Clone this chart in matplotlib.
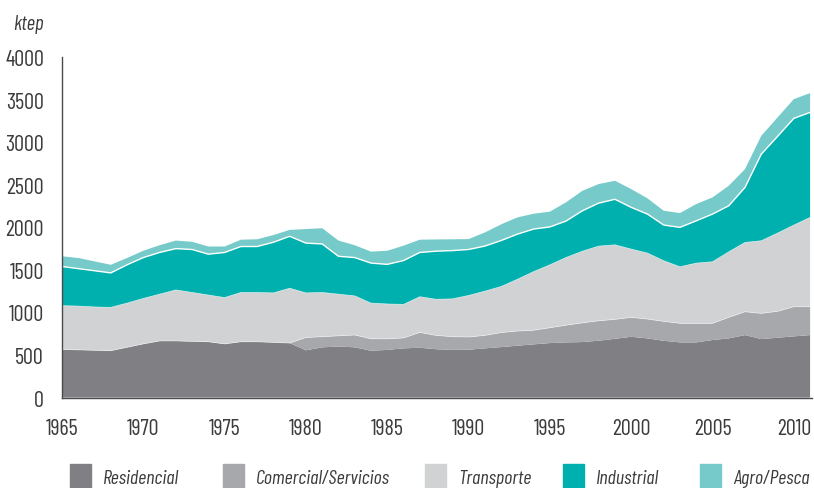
import matplotlib
matplotlib.use("Agg")
import matplotlib.pyplot as plt
import numpy as np

years = list(range(1965, 2012))

residencial = [565, 560, 555, 550, 590, 630, 665, 665, 660, 655,
               630, 655, 655, 648, 640, 555, 590, 600, 590, 550,
               560, 578, 585, 568, 560, 562, 578, 593, 609, 625,
               640, 648, 652, 668, 690, 714, 695, 667, 648, 648,
               676, 695, 734, 687, 703, 719, 734]
comercial = [0, 0, 0, 0, 0, 0, 0, 0, 0, 0,
             0, 0, 0, 0, 0, 150, 125, 125, 145, 140,
             130, 122, 180, 162, 155, 149, 152, 170, 172, 166,
             180, 202, 225, 234, 228, 228, 227, 228, 224, 224,
             196, 247, 274, 302, 310, 348, 333]
transporte = [515, 515, 510, 510, 520, 535, 550, 600, 575, 550,
              545, 580, 580, 582, 645, 525, 520, 490, 460, 420,
              410, 395, 420, 425, 445, 489, 520, 542, 609, 689,
              740, 797, 843, 878, 877, 803, 776, 713, 665, 708,
              724, 771, 815, 854, 920, 960, 1050]
industrial = [460, 440, 425, 405, 450, 480, 490, 485, 505, 480,
              530, 540, 540, 595, 610, 585, 570, 445, 450, 470,
              465, 515, 520, 565, 567, 540, 530, 540, 530, 500,
              445, 428, 475, 505, 535, 490, 458, 419, 463, 497,
              560, 541, 647, 1018, 1136, 1254, 1234]
agro_pesca = [120, 125, 110, 95, 80, 80, 85, 95, 90, 90,
              70, 80, 85, 85, 75, 165, 185, 185, 145, 135,
              160, 175, 150, 138, 133, 122, 160, 190, 197, 180,
              180, 220, 235, 224, 218, 215, 185, 168, 168, 197,
              196, 235, 215, 215, 223, 226, 227]

labels = ["Residencial", "Comercial/Servicios", "Transporte", "Industrial", "Agro/Pesca"]
colors = ["#808084", "#a7a8ab", "#d1d2d4", "#00b0ae", "#76cac9"]
# left edge of each legend swatch, in figure pixels
legend_x = [70, 223, 425, 563, 700]

plt.rcParams["font.family"] = ["Barlow Condensed", "DejaVu Sans"]
text_color = "#3c3c3e"

W, H = 814, 489
fig = plt.figure(figsize=(W / 100, H / 100), dpi=100)
ax = fig.add_axes([0.0762, 0.185, 0.921, 0.696])

series = [residencial, comercial, transporte, industrial, agro_pesca]
ax.stackplot(years, *series, colors=colors, linewidth=0)

# thin white separators between layers
cum = np.cumsum(np.array(series), axis=0)
for i in range(1, 3):
    ax.plot(years, cum[i], color="white", linewidth=0.5, alpha=0.6)
ax.plot(years, cum[3], color="white", linewidth=1.0)

ax.set_xlim(1965, 2011.1)
ax.set_ylim(0, 4000)
ax.set_xticks(range(1965, 2011, 5))
ax.set_yticks(range(0, 4001, 500))
ax.tick_params(length=0, labelsize=16, colors=text_color)
ax.tick_params(axis="y", pad=13)
ax.tick_params(axis="x", pad=15)
for lbl in ax.get_xticklabels():
    lbl.set_x(lbl.get_position()[0])

for s in ["top", "right"]:
    ax.spines[s].set_visible(False)
for s in ["left", "bottom"]:
    ax.spines[s].set_color("#4a4a4c")
    ax.spines[s].set_linewidth(1.0)

fig.text(13 / W, 1 - 24 / H, "ktep", fontsize=15, style="italic", color=text_color, va="center")

for lab, col, x in zip(labels, colors, legend_x):
    leg = fig.legend([plt.Rectangle((0, 0), 1, 1, color=col)], [lab],
                     loc="center left", bbox_to_anchor=(x / W, 1 - 477 / H),
                     frameon=False, borderpad=0, borderaxespad=0,
                     fontsize=14.5, handlelength=1.05, handleheight=1.45, handletextpad=0.6)
    for t in leg.get_texts():
        t.set_style("italic")
        t.set_color(text_color)

fig.savefig("out.png", dpi=100)
